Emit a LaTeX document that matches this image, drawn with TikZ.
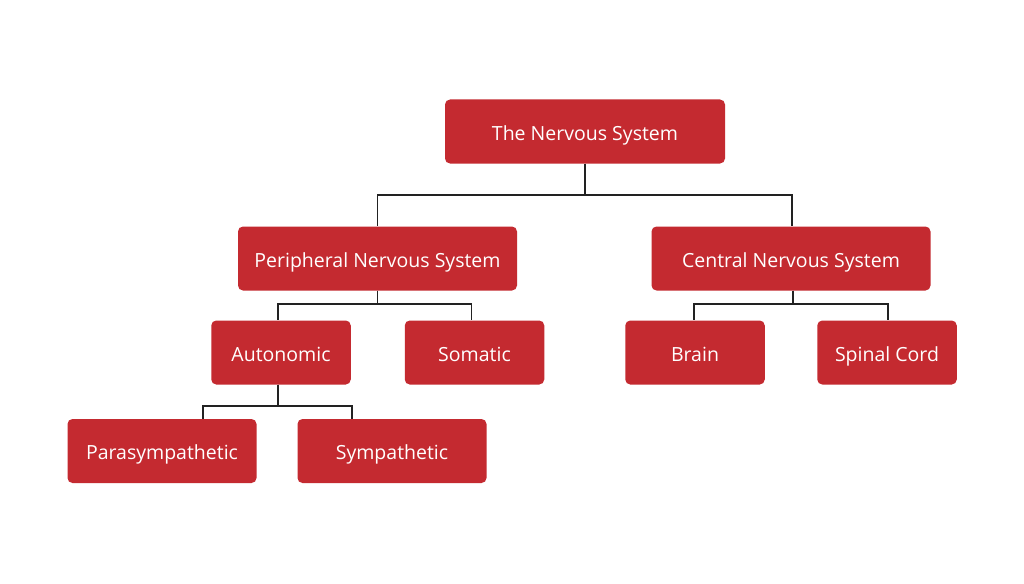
\documentclass[tikz,border=0pt]{standalone}
\usepackage{fontspec}
\setmainfont{Open Sans}
\usetikzlibrary{calc}
\definecolor{boxred}{HTML}{C42A30}
\definecolor{linegray}{HTML}{222222}
\begin{document}
\begin{tikzpicture}[x=1pt,y=-1pt,
  box/.style={draw=none,fill=boxred,rounded corners=5pt,text=white,
    font=\fontsize{19.5}{23}\selectfont,text height=17.5pt,text depth=0pt,
    minimum height=64pt,inner sep=0pt,anchor=center},
  link/.style={draw=linegray,line width=1.8pt}]
\useasboundingbox[fill=white] (0,0) rectangle (1024,583);
\node[box,minimum width=280pt]   (top)   at (585,131.5) {The Nervous System};
\node[box,minimum width=279pt]   (pns)   at (377.5,258.5) {Peripheral Nervous System};
\node[box,minimum width=279pt]   (cns)   at (791,258.5) {Central Nervous System};
\node[box,minimum width=139.5pt] (auto)  at (281,352.5) {Autonomic};
\node[box,minimum width=139.5pt] (som)   at (474.5,352.5) {Somatic};
\node[box,minimum width=139.5pt] (brain) at (695,352.5) {Brain};
\node[box,minimum width=139.5pt] (spin)  at (887,352.5) {Spinal Cord};
\node[box,minimum width=189pt]   (para)  at (162,451) {Parasympathetic};
\node[box,minimum width=189pt]   (symp)  at (392,451) {Sympathetic};
\draw[link] (top.south) -- ++(0,31) -| (pns.north);
\draw[link] (top.south) -- ++(0,31) -| ([xshift=1pt]cns.north);
\draw[link] (pns.south) -- ++(0,13) -| ([xshift=-3pt]auto.north);
\draw[link] (pns.south) -- ++(0,13) -| ([xshift=-3pt]som.north);
\draw[link] ([xshift=2pt]cns.south) -- ++(0,13) -| ([xshift=-1pt]brain.north);
\draw[link] ([xshift=2pt]cns.south) -- ++(0,13) -| ([xshift=1pt]spin.north);
\draw[link] ([xshift=-3pt]auto.south) -- ++(0,21) -| ([xshift=41pt]para.north);
\draw[link] ([xshift=-3pt]auto.south) -- ++(0,21) -| ([xshift=-40pt]symp.north);
\end{tikzpicture}
\end{document}
